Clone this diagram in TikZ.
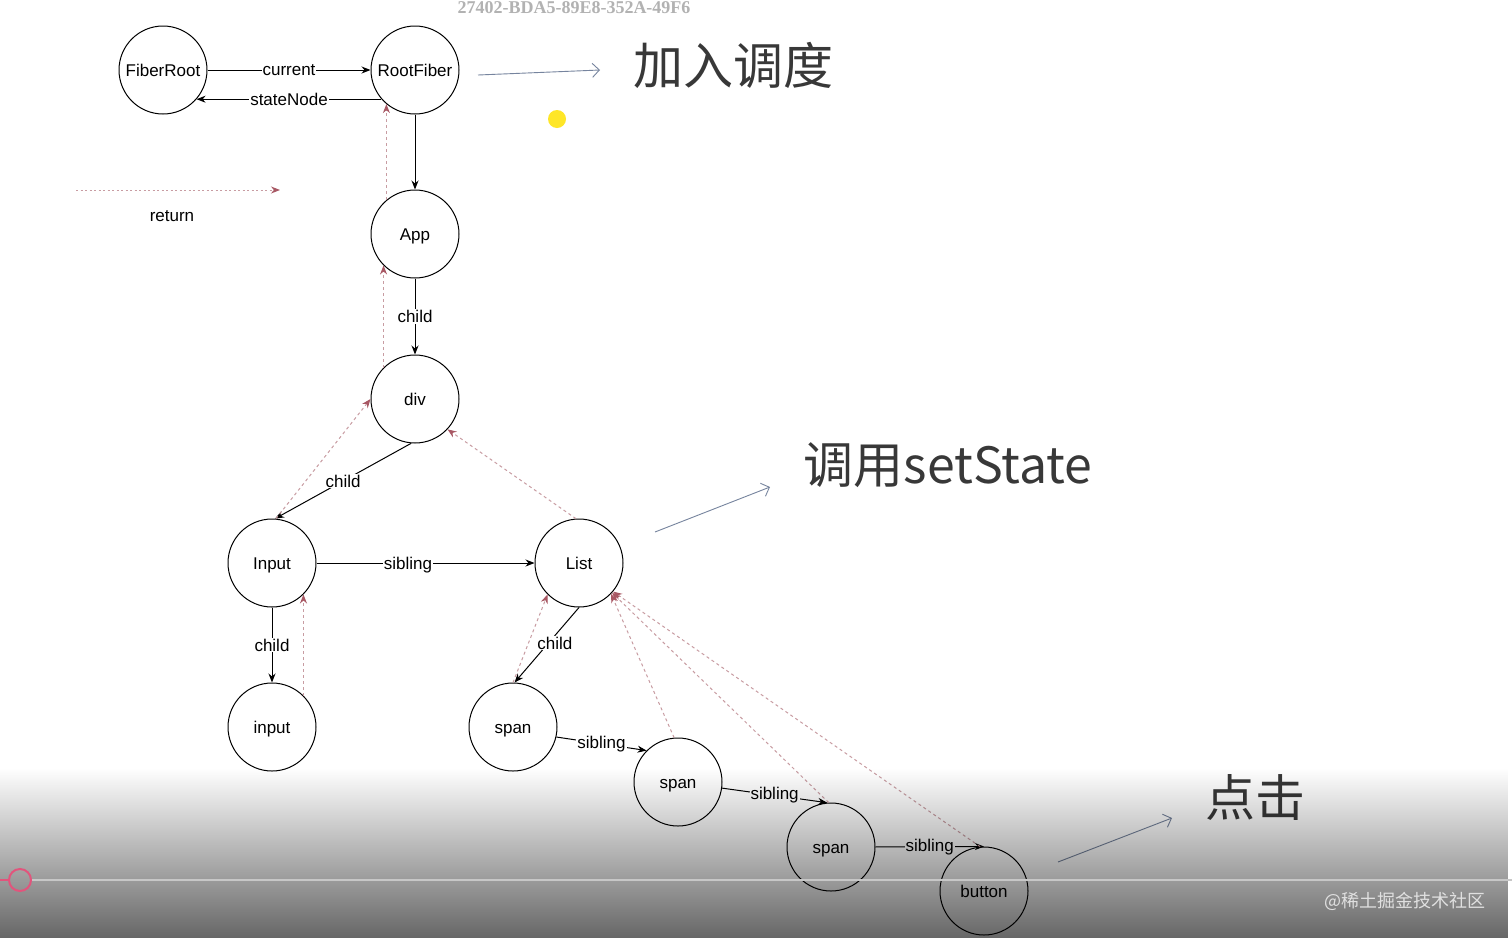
\documentclass[tikz,border=0pt]{standalone}
\usepackage{fontspec}
\setmainfont{Liberation Sans}
\newfontfamily\cjk{Noto Sans CJK SC}
\newfontfamily\markfont{Liberation Serif}
\usetikzlibrary{arrows.meta, fadings}
\definecolor{retline}{RGB}{200,156,162}
\definecolor{rettip}{RGB}{168,88,100}
\definecolor{notecolor}{RGB}{118,132,158}
\definecolor{seekpink}{RGB}{226,84,124}
\tikzfading[name=fadedown, top color=transparent!100, bottom color=transparent!0]
\tikzset{
    >={Stealth[length=9pt, width=7pt]},
    fiber/.style={circle, draw, line width=1pt, minimum size=88pt, inner sep=0pt, text height=13pt, text depth=1pt, font=\fontsize{17}{20}\selectfont},
    link/.style={->, line width=1pt},
    ret/.style={-{Stealth[length=9pt, width=7pt, color=rettip]}, retline, line width=1pt, dash pattern=on 3pt off 3pt},
    lbl/.style={fill=white, inner sep=1pt, font=\fontsize{17}{20}\selectfont},
    note/.style={-{Straight Barb[length=7pt, width=14pt]}, notecolor, line width=0.9pt},
    title/.style={font=\cjk\fontsize{50}{56}\selectfont, text=black!78},
}

\begin{document}
\begin{tikzpicture}[x=1pt, y=-1pt]
    \useasboundingbox (0,0) rectangle (1512,938);
    \fill[white] (0,0) rectangle (1512,938);

    % fibers
    \node[fiber] (fr)   at (163,70)  {FiberRoot};
    \node[fiber] (rf)   at (415,70)  {RootFiber};
    \node[fiber] (app)  at (415,234) {App};
    \node[fiber] (div)  at (415,399) {div};
    \node[fiber] (in)   at (272,563) {Input};
    \node[fiber] (list) at (579,563) {List};
    \node[fiber] (in2)  at (272,727) {input};
    \node[fiber] (sp1)  at (513,727) {span};
    \node[fiber] (sp2)  at (678,782) {span};
    \node[fiber] (sp3)  at (831,847) {span};
    \node[fiber] (btn)  at (984,891) {button};

    % child / sibling
    \path (fr) edge[link] node[lbl] {current} (rf)
          (rf.221) edge[link] node[lbl] {stateNode} (fr.319)
          (rf) edge[link] (app)
          (app) edge[link] node[lbl] {child} (div)
          (div.265) edge[link] node[lbl] {child} (in.86)
          (in) edge[link] node[lbl, pos=0.42, yshift=-2pt] {sibling} (list)
          (in) edge[link] node[lbl] {child} (in2)
          (list.270) edge[link] node[lbl, xshift=8pt, yshift=2pt] {child} (sp1.88)
          (sp1.347) edge[link] node[lbl] {sibling} (sp2.135)
          (sp2) edge[link] node[lbl] {sibling} (sp3.95)
          (sp3) edge[link] node[lbl] {sibling} (btn.90);

    % return
    \path (app.130) edge[ret] (rf.230)
          (div.135) edge[ret] (app.225)
          (in.85)   edge[ret] (div.180)
          (list.94) edge[ret] (div.317)
          (in2.45)  edge[ret] (in.315)
          (sp1.90)  edge[ret] (list.225)
          (sp2.95)  edge[ret] (list.316)
          (sp3.93)  edge[ret] (list.318)
          (btn.95)  edge[ret] (list.320);

    % legend
    \coordinate (retA) at (76,190);
    \coordinate (retB) at (280,190);
    \draw[-{Stealth[length=9pt, width=7pt, color=rettip]}, retline, line width=1pt, dash pattern=on 2pt off 2.5pt] (retA) -- (retB);
    \node[font=\fontsize{17}{20}\selectfont] (retlbl) at (172,216) {return};

    % notes
    \node[title] (sched) at (733,65) {加入调度};
    \node[title] (setst) at (948,465) {调用setState};
    \node[title] (click) at (1255,797) {点击};
    \coordinate (schedA) at (478,75);
    \coordinate (schedB) at (600,70);
    \coordinate (setstA) at (655,532);
    \coordinate (setstB) at (770,487);
    \coordinate (clickA) at (1058,862);
    \coordinate (clickB) at (1172,818);
    \draw[note] (schedA) -- (schedB);
    \draw[note] (setstA) -- (setstB);
    \draw[note] (clickA) -- (clickB);

    % screen marks
    \node[font=\markfont\bfseries\fontsize{18}{20}\selectfont, text=black!30] (mark) at (574,8) {27402-BDA5-89E8-352A-49F6};
    \fill[yellow!85!orange, opacity=0.85] (557,119) circle (9);

    % player overlay
    \fill[black, opacity=0.6, path fading=fadedown] (0,768) rectangle (1512,938);
    \draw[white!78!black, line width=2pt] (31,880) -- (1512,880);
    \draw[seekpink, line width=2pt] (0,880) -- (9,880);
    \draw[seekpink, line width=2pt] (20,880) circle (11);
    \node[font=\cjk\fontsize{18}{20}\selectfont, text=white!88!black] (wm) at (1405,901) {@稀土掘金技术社区};
\end{tikzpicture}
\end{document}
